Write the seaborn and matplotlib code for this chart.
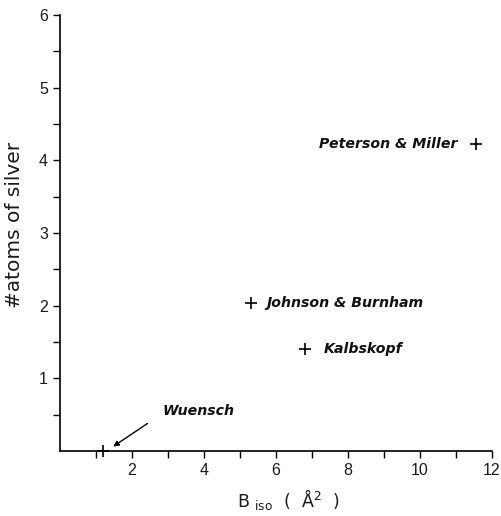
import matplotlib
matplotlib.use("Agg")
import matplotlib.pyplot as plt
import seaborn as sns
import pandas as pd

# data
authors = ["Wuensch", "Johnson & Burnham", "Kalbskopf", "Peterson & Miller"]
b_iso = [1.2, 5.3, 6.8, 11.55]
n_silver = [0.0, 2.03, 1.4, 4.23]

x_major = [2, 4, 6, 8, 10, 12]
y_major = [1, 2, 3, 4, 5, 6]

sns.set_theme(style="ticks")
plt.rcParams["font.family"] = ["Liberation Sans", "DejaVu Sans"]
plt.rcParams["mathtext.fontset"] = "custom"
plt.rcParams["mathtext.rm"] = "DejaVu Sans"
plt.rcParams["mathtext.it"] = "DejaVu Sans:italic"

df = pd.DataFrame({"author": authors, "biso": b_iso, "n": n_silver})

fig = plt.figure(figsize=(5.02, 5.16), dpi=100)
ax = fig.add_axes([0.119, 0.126, 0.861, 0.845])

sns.scatterplot(data=df, x="biso", y="n", marker="+", color="black",
                s=80, linewidth=1.2, ax=ax, clip_on=False, zorder=5)

ax.set_xlim(0, 12)
ax.set_ylim(0, 6)
ax.set_xticks(x_major)
ax.set_xticks(range(1, 12, 2), minor=True)
ax.set_yticks(y_major)
ax.set_yticks([0.5 + i for i in range(6)], minor=True)
ax.tick_params(axis="both", which="both", direction="out", color="black",
               width=1, labelsize=11.5, labelcolor="#1a1a1a")
ax.tick_params(axis="both", which="major", length=5)
ax.tick_params(axis="both", which="minor", length=5)
for s in ["top", "right"]:
    ax.spines[s].set_visible(False)
for s in ["left", "bottom"]:
    ax.spines[s].set_color("black")
    ax.spines[s].set_linewidth(1.2)

ax.set_xlabel(r"B $_{\mathrm{iso}}$  (  Å$^{2}$  )", fontsize=12.5,
              family=["DejaVu Sans"], color="#1a1a1a")
ax.xaxis.set_label_coords(0.528, -0.082)
ax.set_ylabel("#atoms of silver", fontsize=14.5, family=["DejaVu Sans"],
              color="#1a1a1a")
ax.yaxis.set_label_coords(-0.082, 0.518)

lab_kw = dict(fontsize=10.2, fontweight="bold", fontstyle="italic",
              family=["DejaVu Sans"], color="#111111")
# label placement (offsets in points)
ax.annotate(authors[1], (b_iso[1], n_silver[1]), xytext=(11, 0),
            textcoords="offset points", ha="left", va="center", **lab_kw)
ax.annotate(authors[2], (b_iso[2], n_silver[2]), xytext=(14, 0),
            textcoords="offset points", ha="left", va="center", **lab_kw)
ax.annotate(authors[3], (b_iso[3], n_silver[3]), xytext=(-13, 0),
            textcoords="offset points", ha="right", va="center", **lab_kw)
ax.annotate("", xy=(b_iso[0] + 0.22, n_silver[0] + 0.04), xytext=(2.5, 0.4),
            arrowprops=dict(arrowstyle="-|>", color="black", lw=1,
                            mutation_scale=8))
ax.text(2.85, 0.55, authors[0], ha="left", va="center", **lab_kw)

fig.savefig("out.png", dpi=100)
